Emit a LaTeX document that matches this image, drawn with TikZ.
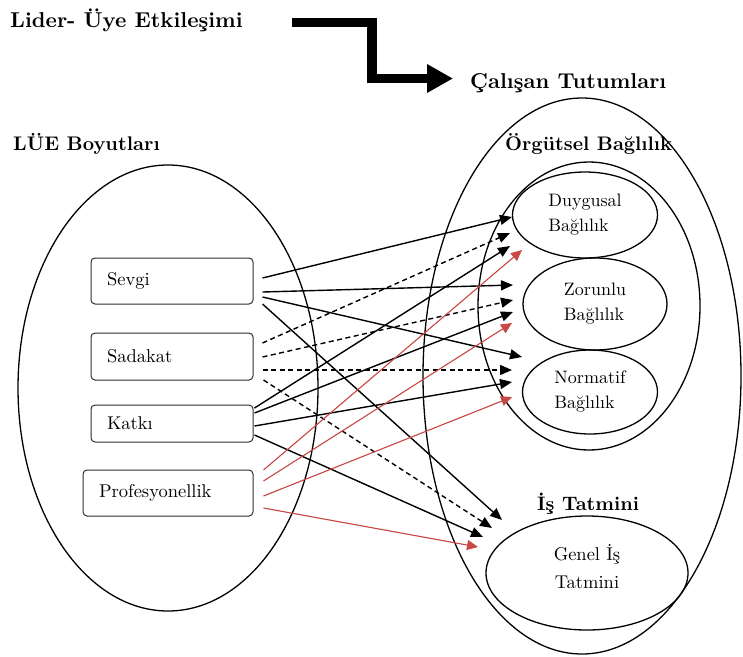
\documentclass[tikz,border=0pt]{standalone}
\usepackage{fontspec}
\setmainfont{lmroman10}[Extension=.otf, UprightFont=*-regular, BoldFont=*-bold, ItalicFont=*-italic, BoldItalicFont=*-bolditalic]
\usetikzlibrary{shapes.geometric,arrows.meta,calc}
\definecolor{redarr}{RGB}{200,72,68}
\definecolor{boxline}{RGB}{45,45,45}
\begin{document}
\begin{tikzpicture}[x=1pt,y=-1pt,
  ell/.style={draw, ellipse, line width=1.3pt, inner sep=0pt},
  lbox/.style={draw=boxline, rounded corners=4pt, line width=1pt, inner xsep=16pt, inner ysep=0pt, align=left, font=\fontsize{18.5}{21}\selectfont, anchor=center},
  head/.style={font=\bfseries\fontsize{#1}{25}\selectfont, anchor=base west, inner sep=0pt},
  etext/.style={font=\fontsize{18}{25}\selectfont, align=left},
  blk/.style={line width=1.4pt, -{Triangle[length=12pt,width=10pt]}},
  dsh/.style={blk, dash pattern=on 5pt off 3.5pt},
  rda/.style={draw=redarr, line width=1.1pt, -{Triangle[length=11pt,width=10pt]}, fill=redarr},
  bigarrow/.style={line width=9.5pt, line join=miter, -{Triangle[length=26pt,width=27pt]}}
]
\useasboundingbox (0,0) rectangle (743,656);

% headings
\node[head=21.5] (lider) at (10,27) {Lider- Üye Etkileşimi};
\node[head=21.5] (calisan) at (470,88) {Çalışan Tutumları};
\node[head=19.7] (lue) at (13,150) {LÜE Boyutları};

% big elbow arrow
\coordinate (ba) at (292,22.5);
\coordinate (bm) at (372,78.5);
\coordinate (bb) at (453,78.5);
\draw[bigarrow] (ba) -| (bm) -- (bb);

% ellipses
\node[ell, minimum width=300pt, minimum height=446pt] (left) at (168,388) {};
\node[ell, minimum width=318pt, minimum height=556pt] (outer) at (582,376) {};
\node[ell, minimum width=222pt, minimum height=288pt] (org) at (589,306) {};
\node[ell, minimum width=145pt, minimum height=86pt, etext] (duy) at (585,215) {Duygusal\\Bağlılık};
\node[ell, minimum width=144pt, minimum height=92pt, etext] (zor) at (595,304) {Zorunlu\\Bağlılık};
\node[ell, minimum width=135pt, minimum height=84pt, etext] (nor) at (590,392) {Normatif\\Bağlılık};
\node[ell, minimum width=202pt, minimum height=114pt] (genel) at (587,573) {};
\node[font=\fontsize{18.5}{28}\selectfont, align=center] (genelt) at ($(genel.center)+(0,-6)$) {Genel İş\\Tatmini};

\node[head=19.6] (orgl) at (505,150) {Örgütsel Bağlılık};
\node[head=19.5] (isl) at (537,510) {İş Tatmini};

% boxes
\node[lbox, text width=130pt, minimum height=46pt] (sevgi) at (172,281) {Sevgi};
\node[lbox, text width=130pt, minimum height=47pt] (sadakat) at (172,356.5) {Sadakat};
\node[lbox, text width=130pt, minimum height=37pt] (katki) at (172,423.5) {Katkı};
\node[lbox, text width=138pt, minimum height=46pt] (prof) at (168,493) {Profesyonellik};

% arrow end points
\coordinate (t1) at (512,217);
\coordinate (t2) at (510,233);
\coordinate (t3) at (510,246);
\coordinate (t4) at (522,250);
\coordinate (t5) at (513,285);
\coordinate (t6) at (513,300);
\coordinate (t7) at (513,312);
\coordinate (t8) at (512,323);
\coordinate (t9) at (522,357);
\coordinate (t10) at (512,370);
\coordinate (t11) at (512,382);
\coordinate (t12) at (512,397);
\coordinate (t13) at (502,520);
\coordinate (t14) at (492,528);
\coordinate (t15) at (483,537);
\coordinate (t16) at (478,547);

% Sevgi
\draw[blk] ($(sevgi.east)+(9,-3)$) -- (t1);
\draw[blk] ($(sevgi.east)+(9,11)$) -- (t5);
\draw[blk] ($(sevgi.east)+(9,16)$) -- (t9);
\draw[blk] ($(sevgi.east)+(9,23)$) -- (t13);
% Sadakat
\draw[dsh] ($(sadakat.east)+(9,-13.5)$) -- (t2);
\draw[dsh] ($(sadakat.east)+(9,0.5)$) -- (t6);
\draw[dsh] ($(sadakat.east)+(9,13.5)$) -- (t10);
\draw[dsh] ($(sadakat.east)+(10,23.5)$) -- (t14);
% Katki
\draw[blk] ($(katki.east)+(1,-15.5)$) -- (t3);
\draw[blk] ($(katki.east)+(1,-10.5)$) -- (t7);
\draw[blk] ($(katki.east)+(1,2.5)$) -- (t11);
\draw[blk] ($(katki.east)+(1,11.5)$) -- (t15);
% Profesyonellik
\draw[rda] ($(prof.east)+(10,-23)$) -- (t4);
\draw[rda] ($(prof.east)+(10,-12)$) -- (t8);
\draw[rda] ($(prof.east)+(10,3)$) -- (t12);
\draw[rda] ($(prof.east)+(10,15)$) -- (t16);
\end{tikzpicture}
\end{document}
